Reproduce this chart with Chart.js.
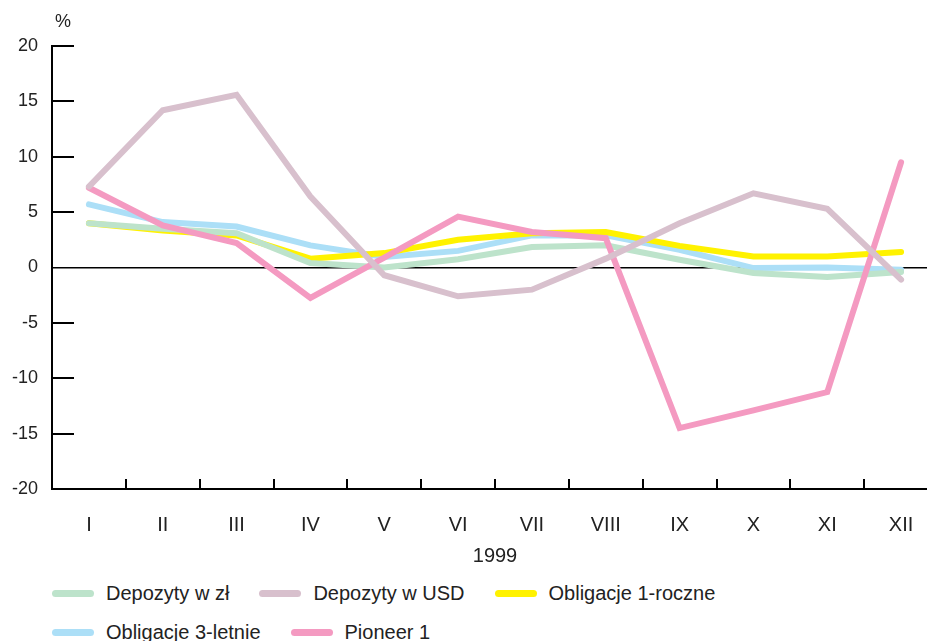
<!DOCTYPE html>
<html>
<head>
<meta charset="utf-8">
<script src="https://cdn.jsdelivr.net/npm/chart.js@4.4.1/dist/chart.umd.min.js"></script>
<style>
  html, body { margin: 0; padding: 0; background: #fff; overflow: hidden; width: 927px; height: 641px; }
  #wrap { position: absolute; left: 0; top: 0; width: 940px; height: 575px; }
  #legend {
    position: absolute; left: 52px; top: 581px; width: 875px;
    display: flex; flex-wrap: wrap; column-gap: 30px; row-gap: 15px;
    font-family: "Liberation Sans", Arial, sans-serif; font-size: 20px; color: #222;
  }
  #legend .item { display: flex; align-items: center; height: 24px; white-space: nowrap; }
  #legend .swatch { width: 42px; height: 7px; border-radius: 4px; margin-right: 12px; }
</style>
</head>
<body>
<div id="wrap"><canvas id="chart" width="940" height="575"></canvas></div>
<div id="legend"></div>
<script>
// months of 1999
var months = ['I', 'II', 'III', 'IV', 'V', 'VI', 'VII', 'VIII', 'IX', 'X', 'XI', 'XII'];
var yTicks = [20, 15, 10, 5, 0, -5, -10, -15, -20];

// series, %
var depozytyZl  = [4.0, 3.5, 3.1, 0.4, 0.0, 0.75, 1.85, 2.0, 0.7, -0.5, -0.85, -0.4];
var depozytyUsd = [7.3, 14.2, 15.6, 6.4, -0.7, -2.6, -2.0, 0.8, 4.0, 6.7, 5.3, -1.1];
var oblig1      = [4.0, 3.35, 2.9, 0.8, 1.3, 2.5, 3.1, 3.2, 1.95, 1.0, 1.0, 1.4];
var oblig3      = [5.7, 4.1, 3.7, 2.0, 0.95, 1.5, 2.9, 2.9, 1.6, -0.05, 0.0, -0.2];
var pioneer     = [7.2, 3.8, 2.2, -2.75, 0.9, 4.6, 3.2, 2.65, -14.5, -12.9, -11.25, 9.5];

var FONT = '"Liberation Sans", Arial, sans-serif';
var INK = '#222';

var series = [
    { label: 'Depozyty w zł',      data: depozytyZl,  color: '#bde3cb', order: 2 },
    { label: 'Depozyty w USD',     data: depozytyUsd, color: '#d8c0cd', order: 0 },
    { label: 'Obligacje 1-roczne', data: oblig1,      color: '#fff200', order: 3 },
    { label: 'Obligacje 3-letnie', data: oblig3,      color: '#acdff7', order: 4 },
    { label: 'Pioneer 1',          data: pioneer,     color: '#f49ac1', order: 1 }
];

// inner tick marks + the "%" unit label
var axisMarks = {
    id: 'axisMarks',
    afterDatasetsDraw: function(chart) {
        var ctx = chart.ctx, x = chart.scales.x, y = chart.scales.y;
        var left = chart.chartArea.left, bottom = chart.chartArea.bottom;
        ctx.save();
        ctx.strokeStyle = '#000';
        ctx.lineWidth = 2;
        ctx.beginPath();
        yTicks.forEach(function(v) {
            if (v === 0 || v === -20) return;
            var py = Math.round(y.getPixelForValue(v));
            ctx.moveTo(left, py);
            ctx.lineTo(left + 22, py);
        });
        for (var i = 1; i < months.length; i++) {
            var px = Math.round((x.getPixelForValue(i - 1) + x.getPixelForValue(i)) / 2);
            ctx.moveTo(px, bottom);
            ctx.lineTo(px, bottom - 10);
        }
        ctx.stroke();
        ctx.fillStyle = INK;
        ctx.font = '18px ' + FONT;
        ctx.textAlign = 'center';
        ctx.textBaseline = 'middle';
        ctx.fillText('%', left + 11, chart.chartArea.top - 24);
        ctx.restore();
    }
};

var chart = new Chart(document.getElementById('chart'), {
    type: 'line',
    data: {
        labels: months,
        datasets: series.map(function(s) {
            return {
                label: s.label,
                data: s.data,
                borderColor: s.color,
                backgroundColor: s.color,
                borderWidth: 6,
                borderCapStyle: 'round',
                pointRadius: 0,
                tension: 0,
                order: s.order
            };
        })
    },
    options: {
        responsive: false,
        animation: false,
        layout: { padding: { top: 46, right: 2, bottom: 0, left: 0 } },
        plugins: { legend: { display: false }, tooltip: { enabled: false } },
        scales: {
            x: {
                offset: true,
                grid: { display: false },
                border: { display: true, color: '#000', width: 2 },
                ticks: { color: INK, font: { family: FONT, size: 20 }, padding: 16, maxRotation: 0 },
                title: { display: true, text: '1999', color: INK, font: { family: FONT, size: 20 }, padding: { top: 0, bottom: 7 } },
                afterFit: function(s) { s.height = 86; }
            },
            y: {
                min: -20, max: 20,
                grid: {
                    drawTicks: false,
                    lineWidth: 1.5,
                    color: function(c) { return c.tick && c.tick.value === 0 ? '#000' : 'rgba(0,0,0,0)'; }
                },
                border: { display: true, color: '#000', width: 2 },
                ticks: {
                    stepSize: 5, color: INK, padding: 14,
                    font: { family: FONT, size: 18 },
                    callback: function(v) { return String(v); }
                },
                afterFit: function(s) { s.width = 52; }
            }
        }
    },
    plugins: [axisMarks]
});

// legend
var legend = document.getElementById('legend');
series.forEach(function(s) {
    var item = document.createElement('div');
    item.className = 'item';
    var sw = document.createElement('span');
    sw.className = 'swatch';
    sw.style.background = s.color;
    item.appendChild(sw);
    item.appendChild(document.createTextNode(s.label));
    legend.appendChild(item);
});
</script>
</body>
</html>
